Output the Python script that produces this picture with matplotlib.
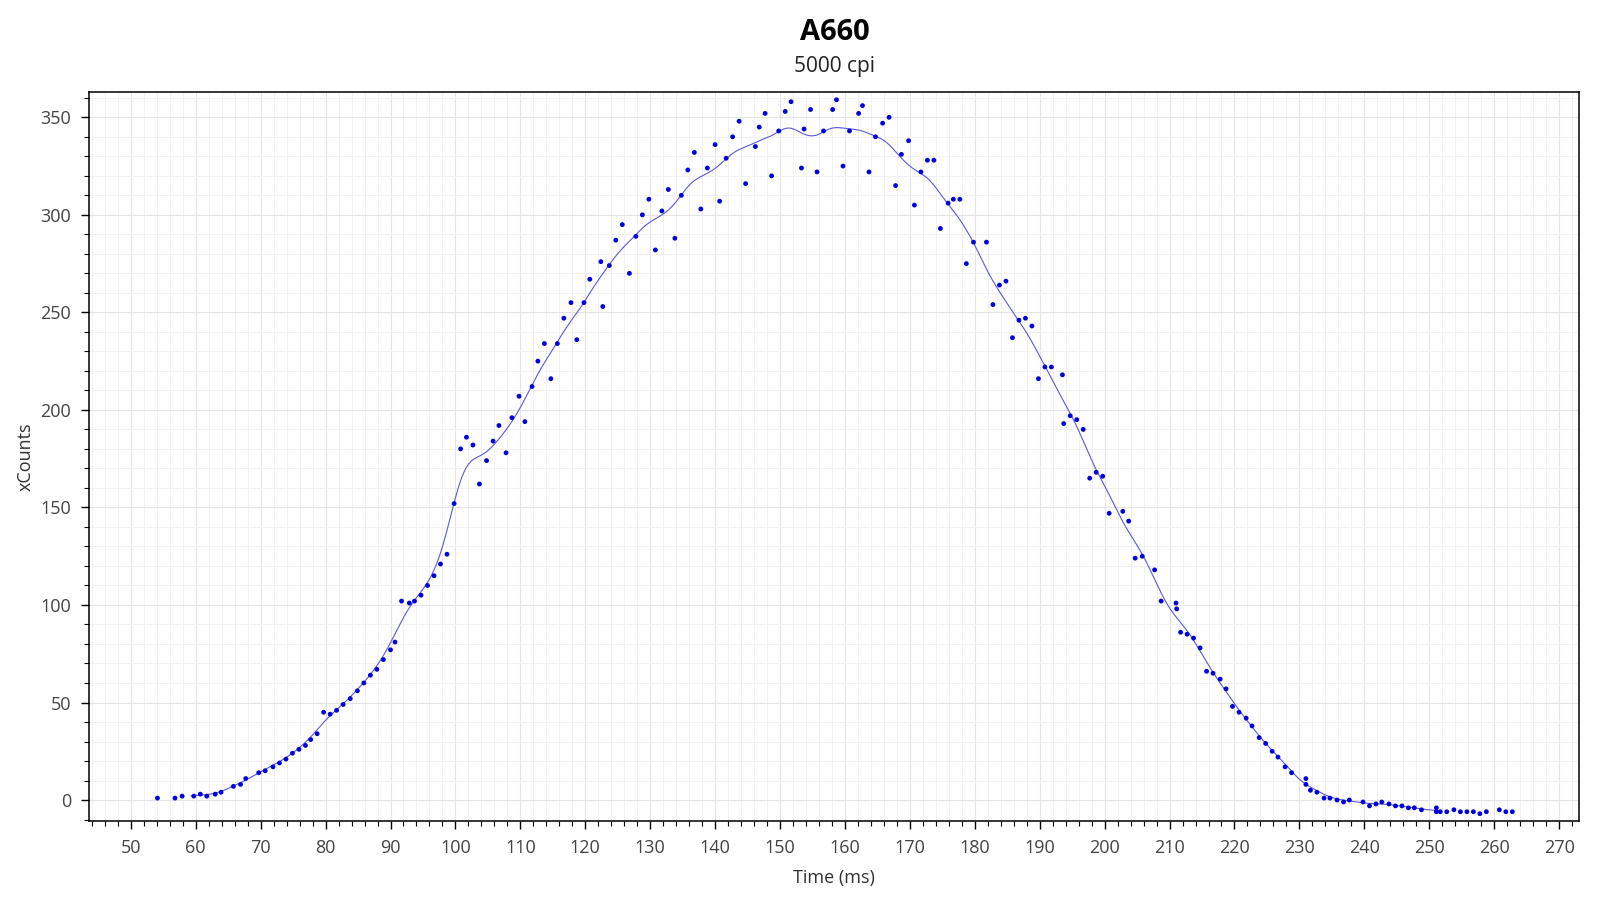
import numpy as np
import matplotlib
matplotlib.use("Agg")
import matplotlib.pyplot as plt
from matplotlib.ticker import MultipleLocator

# sample times (ms) and counts
t_ms = [54.1, 56.8, 57.9, 59.7, 60.7, 61.7, 63.0, 63.9, 65.8, 66.9, 67.7, 69.7, 70.7, 71.9,
        72.9, 73.9, 74.9, 75.9, 76.9, 77.7, 78.7, 79.7, 80.7, 81.7, 82.7, 83.8, 84.9, 85.9,
        86.9, 87.9, 88.9, 90.0, 90.7, 91.7, 92.9, 93.7, 94.7, 95.7, 96.7, 97.7, 98.7, 99.8,
        100.8, 101.7, 102.7, 103.7, 104.8, 105.8, 106.7, 107.8, 108.7, 109.8, 110.7, 111.8,
        112.7, 113.7, 114.7, 115.7, 116.7, 117.8, 118.7, 119.8, 120.7, 122.4, 122.7, 123.7,
        124.7, 125.7, 126.8, 127.8, 128.8, 129.8, 130.8, 131.8, 132.8, 133.8, 134.8, 135.8,
        136.8, 137.8, 138.8, 140.0, 140.7, 141.7, 142.7, 143.7, 144.7, 146.2, 146.8, 147.7,
        148.7, 149.8, 150.8, 151.7, 153.3, 153.7, 154.7, 155.7, 156.7, 158.1, 158.7, 159.7,
        160.7, 162.1, 162.7, 163.7, 164.7, 165.8, 166.8, 167.8, 168.7, 169.8, 170.7, 171.7,
        172.7, 173.7, 174.7, 175.9, 176.7, 177.7, 178.7, 179.8, 181.8, 182.8, 183.8, 184.8,
        185.8, 186.8, 187.8, 188.8, 189.8, 190.8, 191.8, 193.5, 193.7, 194.7, 195.7, 196.7,
        197.7, 198.7, 199.7, 200.7, 202.8, 203.7, 204.7, 205.8, 207.7, 208.7, 211.0, 211.1,
        211.7, 212.7, 213.7, 214.7, 215.7, 216.7, 217.8, 218.7, 219.7, 220.7, 221.8, 222.7,
        223.8, 224.8, 225.8, 226.7, 227.8, 228.8, 231.0, 231.0, 231.7, 232.7, 233.8, 234.7,
        235.8, 236.8, 237.7, 239.8, 240.8, 241.8, 242.7, 243.8, 244.8, 245.8, 246.8, 247.7,
        248.8, 251.1, 251.1, 251.7, 252.7, 253.8, 254.8, 255.8, 256.8, 257.8, 258.8, 260.8,
        261.8, 262.8]
x_counts = [1, 1, 2, 2, 3, 2, 3, 4, 7, 8, 11, 14, 15, 17,
            19, 21, 24, 26, 28, 31, 34, 45, 44, 46, 49, 52, 56, 60,
            64, 67, 72, 77, 81, 102, 101, 102, 105, 110, 115, 121, 126, 152,
            180, 186, 182, 162, 174, 184, 192, 178, 196, 207, 194, 212,
            225, 234, 216, 234, 247, 255, 236, 255, 267, 276, 253, 274,
            287, 295, 270, 289, 300, 308, 282, 302, 313, 288, 310, 323,
            332, 303, 324, 336, 307, 329, 340, 348, 316, 335, 345, 352,
            320, 343, 353, 358, 324, 344, 354, 322, 343, 354, 359, 325,
            343, 352, 356, 322, 340, 347, 350, 315, 331, 338, 305, 322,
            328, 328, 293, 306, 308, 308, 275, 286, 286, 254, 264, 266,
            237, 246, 247, 243, 216, 222, 222, 218, 193, 197, 195, 190,
            165, 168, 166, 147, 148, 143, 124, 125, 118, 102, 101, 98,
            86, 85, 83, 78, 66, 65, 62, 57, 48, 45, 42, 38,
            32, 29, 25, 22, 17, 14, 11, 8, 5, 4, 1, 1,
            0, -1, 0, -1, -3, -2, -1, -2, -3, -3, -4, -4,
            -5, -4, -6, -6, -6, -5, -6, -6, -6, -7, -6, -5,
            -6, -6]

title = "A660"
subtitle = "5000 cpi"

t = np.array(t_ms)
y = np.array(x_counts, dtype=float)

# smoothed trend line (gaussian kernel average of the samples)
grid = np.linspace(59.3, 251.1, 1200)
sigma = 1.9
w = np.exp(-0.5 * ((t[None, :] - grid[:, None]) / sigma) ** 2)
smooth = (w * y[None, :]).sum(axis=1) / w.sum(axis=1)

plt.rcParams['font.family'] = ['Open Sans', 'DejaVu Sans']

fig = plt.figure(figsize=(16, 9), dpi=100)
ax = fig.add_axes([0.0558, 0.0881, 0.9312, 0.8093])

ax.plot(grid, smooth, color='#5a5ad8', lw=0.8, zorder=2)
ax.scatter(t, y, s=12, color='#0000dd', edgecolors='none', zorder=3)

ax.set_xlim(43.6, 273.1)
ax.set_ylim(-10.6, 362.8)
ax.xaxis.set_major_locator(MultipleLocator(10))
ax.xaxis.set_minor_locator(MultipleLocator(2))
ax.yaxis.set_major_locator(MultipleLocator(50))
ax.yaxis.set_minor_locator(MultipleLocator(10))

ax.grid(which='major', color='#e4e4e4', lw=0.8)
ax.grid(which='minor', color='#f1f1f1', lw=0.7)
ax.set_axisbelow(True)

ax.tick_params(which='major', direction='out', length=6, width=1, labelsize=13,
               labelcolor='#444444', pad=7)
ax.tick_params(which='minor', direction='out', length=3.5, width=0.8)
for s in ax.spines.values():
    s.set_linewidth(1.1)
    s.set_color('black')

ax.set_xlabel("Time (ms)", fontsize=13, color='#333333', labelpad=9)
ax.set_ylabel("xCounts", fontsize=13, color='#333333', labelpad=4)

fig.text(0.5215, 0.964, title, ha='center', va='center', fontsize=21, fontweight='bold')
fig.text(0.5215, 0.926, subtitle, ha='center', va='center', fontsize=15, color='#222222')

fig.savefig("out.png", dpi=100)
